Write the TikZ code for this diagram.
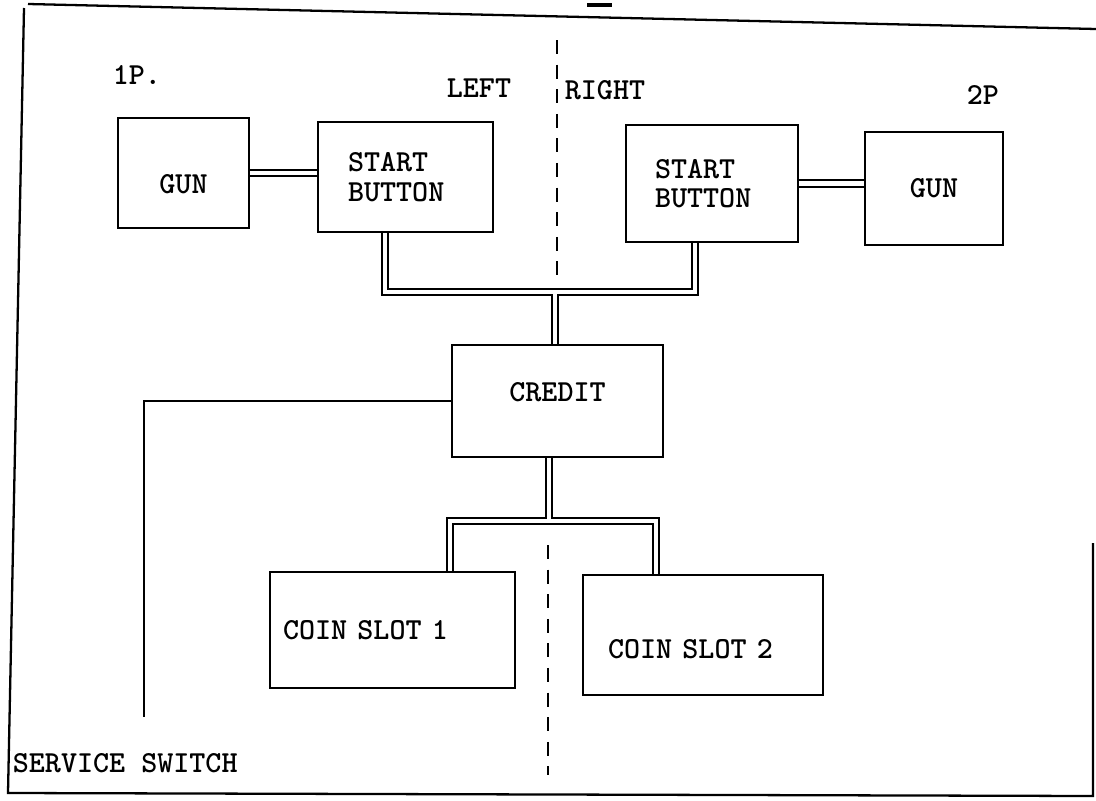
\documentclass[tikz,border=0pt]{standalone}
\usepackage{tikz}
\usetikzlibrary{backgrounds}

\begin{document}
\begin{tikzpicture}[x=0.02cm, y=-0.02cm, every node/.style={inner sep=2pt},
  txt/.style={font=\fontsize{17.4}{16.8}\selectfont\ttfamily\bfseries},
  unit/.style={txt, draw, line width=1.3pt, align=left},
  wire/.style={line width=1.1pt},
  dwire/.style={line width=1.1pt, double, double distance=2.8pt},
  divide/.style={line width=1pt, dash pattern=on 8pt off 6pt}]
\useasboundingbox (0,0) rectangle (1096,801);
% frame of the sheet
\draw[line width=1.3pt] (28,4) -- (1096,29);
\draw[line width=1.3pt] (24,8) -- (8,793) -- (1093,796) -- (1093,543);
\draw[line width=2.5pt] (587,5) -- (612,5);
\draw[divide] (557,40) -- (557,275);
\draw[divide] (548,545) -- (548,775);

\node[txt, anchor=west] (p1)    at (109,75) {1P.};
\node[txt, anchor=west] (left)  at (443,88) {LEFT};
\node[txt, anchor=west] (right) at (561,90) {RIGHT};
\node[txt, anchor=west] (p2)    at (963,95) {2P};

\node[unit, minimum width=2.62cm, minimum height=2.2cm, text height=0.84cm] (gun1) at (183.5,173) {GUN};
\node[unit, text width=2.3cm, inner xsep=0.6cm, minimum height=2.2cm] (st1) at (405.5,177) {START\\BUTTON};
\node[unit, text width=2.28cm, inner xsep=0.58cm, minimum height=2.34cm] (st2) at (712,183.5) {START\\BUTTON};
\node[unit, minimum width=2.76cm, minimum height=2.26cm] (gun2) at (934,188.5) {GUN};
\node[unit, minimum width=4.22cm, minimum height=2.24cm, text depth=0.36cm] (credit) at (557.5,401) {CREDIT};
\node[unit, text width=4.38cm, inner xsep=0.26cm, minimum height=2.32cm] (coin1) at (392.5,630) {COIN SLOT 1};
\node[unit, text width=3.8cm, inner xsep=0.5cm, minimum height=2.4cm, text height=0.95cm] (coin2) at (703,635) {COIN SLOT 2};

\node[txt, anchor=west] (service) at (9,763) {SERVICE SWITCH};
\coordinate (sw) at (144,717);

\begin{scope}[on background layer]
\draw[dwire] (gun1.east) -- (gun1.east -| st1.west);
\draw[dwire] (st2.east) -- (st2.east -| gun2.west);
\draw[dwire] (st1.south -| 385,0) |- (555,292) -| (st2.south -| 695,0)
  (555,292) -- (credit.north -| 555,0);
\draw[dwire] (credit.south -| 549,0) -- (549,521)
  (coin1.north -| 450,0) |- (549,521) -| (coin2.north -| 656,0);
\draw[wire] (credit.west) -| (sw);
\end{scope}
\end{tikzpicture}
\end{document}
